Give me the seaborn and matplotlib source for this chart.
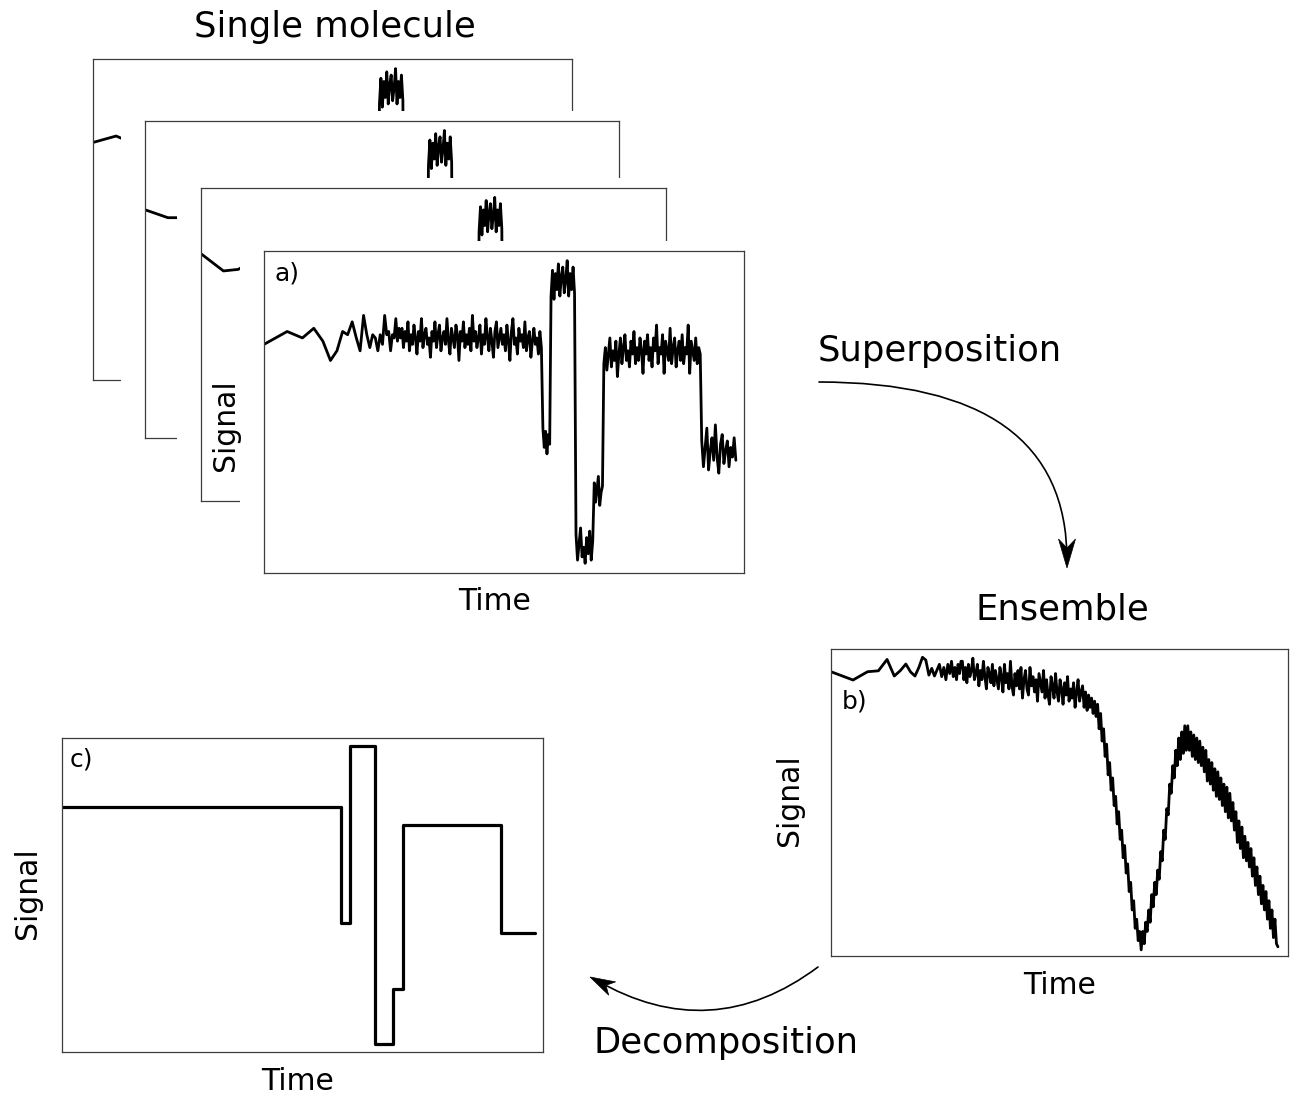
import numpy as np
import matplotlib
matplotlib.use("Agg")
import matplotlib.pyplot as plt
import seaborn as sns
from matplotlib.patches import Rectangle, FancyArrowPatch, Polygon
from matplotlib.ticker import NullLocator

# ---------------- data (signal on a 0-100 scale, time on log axis) ----------------
# single-molecule trace (panel a) : first sparse samples at t = 1.5, 2.5, ...
a_early = [71, 75, 73, 76, 72, 66, 69, 75, 74, 78, 73, 69, 80, 74, 70, 74, 73, 69, 74, 71,
           80, 74, 75, 69, 74, 73, 79, 72, 76, 73]
# dwell boundaries (time) of the states
a_breaks = [31.5, 706, 845, 1466, 2193, 2710, 23500, 49900]
a_state1 = [76, 70, 75, 72, 78, 69, 74, 71, 77, 73,
            68, 75, 72, 79, 70, 74, 76, 71, 73, 67,
            75, 72, 78, 70, 74, 77, 69, 73, 75, 71,
            79, 72, 68, 76, 73, 70, 77, 74, 66, 75,
            72, 78, 70, 74, 71, 76, 69, 80, 72, 75,
            70, 73, 77, 68, 74, 71, 79, 73, 69, 76,
            72, 67, 75, 78, 70, 73, 76, 71, 74, 69,
            77, 72, 66, 75, 79, 71, 73, 68, 76, 72,
            74, 70, 78, 69, 73, 75, 67, 72, 76, 71,
            73, 68, 75, 70]
a_state2 = [45, 39, 44, 37, 43, 40]
a_state3 = [86, 94, 85, 93, 88, 96, 86, 92, 95, 87, 91, 97, 86, 93, 88, 95, 87]
a_state4 = [12, 4, 9, 14, 5, 8, 3, 11, 6, 13, 4, 10]
a_state5 = [28, 22, 26, 30, 21, 25, 27]
a_state6 = [65, 70, 63, 68, 73, 64, 69, 66, 72, 61,
            68, 73, 65, 70, 74, 66, 69, 64, 72, 68,
            75, 65, 70, 66, 73, 69, 62, 72, 68, 74,
            66, 70, 64, 73, 69, 77, 65, 70, 68, 74,
            62, 72, 69, 66, 76, 65, 70, 73, 64, 69,
            72, 66, 74, 65, 70, 68, 77, 62, 72, 69,
            66, 73, 65, 70, 68]
a_state7 = [41, 33, 39, 45, 32, 38, 42, 35, 46, 36,
            31, 40, 43, 34, 38, 41, 33, 39, 36, 42, 35]

# first samples of the three molecules stacked behind panel a
back_starts = [[74, 76, 74], [72, 69.5, 69.5], [79, 73.5, 74]]

# ensemble trace (panel b)
b_early = [92.6, 89.9, 92.6, 92.9, 96.6, 91.2, 93, 95.1, 92.5, 91.2,
           94, 97.3, 96.4, 91.5, 93.7, 91.2, 93.2, 95, 91, 94,
           90, 95, 92, 96, 91, 94, 90, 95, 92, 96]
b_span = [31.5, 47300]
b_dense = [96, 90, 94, 89, 95, 91, 93, 97, 90, 92,
           95, 88, 93, 90, 96, 91, 87, 94, 92, 89,
           95, 88, 93, 90, 87, 94, 91, 86, 95, 89,
           92, 87, 96, 88, 85, 92, 88, 93, 87, 94,
           84, 90, 93, 87, 85, 94, 88, 91, 86, 90,
           83, 92, 89, 86, 93, 84, 90, 85, 82, 91,
           88, 84, 92, 86, 83, 90, 87, 82, 89, 85,
           91, 83, 87, 84, 89, 81, 86, 90, 83, 86,
           88, 81, 86, 80, 85, 81, 84, 79, 83, 78,
           82, 74, 79, 70, 74, 65, 69, 59, 63, 54,
           58, 49, 52, 43, 47, 38, 41, 32, 36, 27,
           30, 21, 24, 15, 18, 9, 12, 5, 8, 2,
           8, 4, 11, 8, 15, 11, 20, 16, 24, 20,
           28, 25, 34, 31, 41, 38, 48, 46, 56, 53,
           62, 58, 67, 62, 71, 64, 73, 66, 75, 67,
           75, 67, 73, 65, 72, 64, 71, 63, 70, 62,
           68, 60, 67, 57, 64, 56, 63, 54, 61, 52,
           60, 51, 58, 49, 56, 47, 55, 45, 53, 44,
           50, 41, 47, 37, 44, 35, 42, 32, 39, 31,
           37, 29, 35, 26, 32, 23, 29, 20, 26, 17,
           23, 15, 21, 12, 18, 9, 15, 6, 12, 4, 3]

# decomposed (idealised) trace (panel c)
c_breaks = [1.5, 706, 845, 1466, 2193, 2710, 23500, 49900]
c_levels = [78, 41, 97.5, 2.6, 20, 72.3, 38]

# ---------------- build time grids ----------------
a_states = [a_state1, a_state2, a_state3, a_state4, a_state5, a_state6, a_state7]
a_t = [1.5 + np.arange(len(a_early))]
a_y = [np.array(a_early, float)]
for i, vals in enumerate(a_states):
    last = i == len(a_states) - 1
    a_t.append(np.geomspace(a_breaks[i], a_breaks[i + 1], len(vals), endpoint=last))
    a_y.append(np.array(vals, float))
a_t = np.concatenate(a_t)
a_y = np.concatenate(a_y)

b_t = np.concatenate([1.5 + np.arange(len(b_early)),
                      np.geomspace(b_span[0], b_span[1], len(b_dense))])
b_y = np.concatenate([b_early, b_dense]).astype(float)

c_t = np.array(c_breaks, float)
c_y = np.array(c_levels + [c_levels[-1]], float)

# ---------------- figure ----------------
W, H = 1293, 1095
sns.set_theme(style="white")
plt.rcParams['font.family'] = ['DejaVu Sans']
plt.rcParams['text.color'] = 'black'
fig = plt.figure(figsize=(W / 100, H / 100), dpi=100)


def box(l, t, r, b):
    return [l / W, 1 - b / H, (r - l) / W, (b - t) / H]


def style(ax):
    ax.set_xscale('log')
    ax.set_xlim(1.5, 59716)
    ax.set_ylim(0, 100)
    ax.xaxis.set_major_locator(NullLocator())
    ax.xaxis.set_minor_locator(NullLocator())
    ax.yaxis.set_major_locator(NullLocator())
    ax.set_xlabel('')
    ax.set_ylabel('')
    ax.set_facecolor('white')
    for s in ax.spines.values():
        s.set_visible(True)
        s.set_color('#3c3c3c')
        s.set_linewidth(0.9)


TRACE_LW = 2.0
stack = [(93, 59, 572, 380), (145, 121, 619, 438), (201, 188, 666, 501), (264, 251, 744, 573)]
z = 1
for k, (l, t, r, b) in enumerate(stack):
    if k > 0:
        cover = Rectangle(((l - 24) / W, 1 - b / H), (r - l + 24) / W, (b - t + 10) / H,
                          transform=fig.transFigure, facecolor='white', edgecolor='none',
                          zorder=z)
        fig.add_artist(cover)
        z += 1
    ax = fig.add_axes(box(l, t, r, b))
    ax.set_zorder(z)
    z += 1
    y = a_y.copy()
    if k < 3:
        y[:3] = back_starts[k]
    sns.lineplot(x=a_t, y=y, ax=ax, color='black', linewidth=TRACE_LW,
                 estimator=None, sort=False)
    style(ax)
    if k == 3:
        ax.text(0.021, 0.93, 'a)', transform=ax.transAxes, fontsize=18,
                ha='left', va='center', color='black')

axb = fig.add_axes(box(831, 649, 1288, 956))
sns.lineplot(x=b_t, y=b_y, ax=axb, color='black', linewidth=TRACE_LW,
             estimator=None, sort=False)
style(axb)
axb.text(0.023, 0.83, 'b)', transform=axb.transAxes, fontsize=18, ha='left',
         va='center', color='black')

axc = fig.add_axes(box(62, 738, 543, 1052))
sns.lineplot(x=c_t, y=c_y, ax=axc, color='black', linewidth=2.3,
             estimator=None, sort=False, drawstyle='steps-post')
style(axc)
axc.text(0.016, 0.93, 'c)', transform=axc.transAxes, fontsize=18, ha='left',
         va='center', color='black')

# ---------------- overlay: titles, axis labels, arrows ----------------
ov = fig.add_axes([0, 0, 1, 1], zorder=50)
ov.set_xlim(0, W)
ov.set_ylim(H, 0)
ov.axis('off')
ov.patch.set_alpha(0)

big = 25.5
lab = 21.5
ov.text(335, 37, 'Single molecule', fontsize=big, ha='center', va='baseline')
ov.text(940, 361, 'Superposition', fontsize=big, ha='center', va='baseline')
ov.text(1062, 619, 'Ensemble', fontsize=big, ha='center', va='baseline')
ov.text(726, 1053, 'Decomposition', fontsize=big, ha='center', va='baseline')

for (xc, yb) in [(495, 610), (1060, 994), (298, 1090)]:
    ov.text(xc, yb, 'Time', fontsize=lab, ha='center', va='baseline')
for (xc, yc) in [(225, 425), (790, 800), (27, 893)]:
    ov.text(xc, yc, 'Signal', fontsize=lab, ha='center', va='center', rotation=90)


def stealth_head(tip, frm, length, half_w, notch):
    tip = np.array(tip, float)
    d = tip - np.array(frm, float)
    d /= np.hypot(*d)
    n = np.array([-d[1], d[0]])
    back = tip - length * d
    pts = [tip, back + half_w * n, tip - (length - notch) * d, back - half_w * n]
    ov.add_patch(Polygon(pts, closed=True, facecolor='black', edgecolor='black',
                         linewidth=0.5, zorder=5))


# Superposition arrow
ov.add_patch(FancyArrowPatch((819, 382), (1067, 560),
                             connectionstyle='angle3,angleA=0,angleB=90',
                             arrowstyle='-', color='black', linewidth=1.2,
                             shrinkA=0, shrinkB=0))
stealth_head((1067, 568), (1067, 500), 29, 8.5, 9)

# Decomposition arrow
ov.add_patch(FancyArrowPatch((818, 967), (596, 980),
                             connectionstyle='arc3,rad=-0.33',
                             arrowstyle='-', color='black', linewidth=1.2,
                             shrinkA=0, shrinkB=0))
stealth_head((590, 977), (640, 1003), 25, 7.5, 7)

fig.savefig('out.png', dpi=100, facecolor='white')
